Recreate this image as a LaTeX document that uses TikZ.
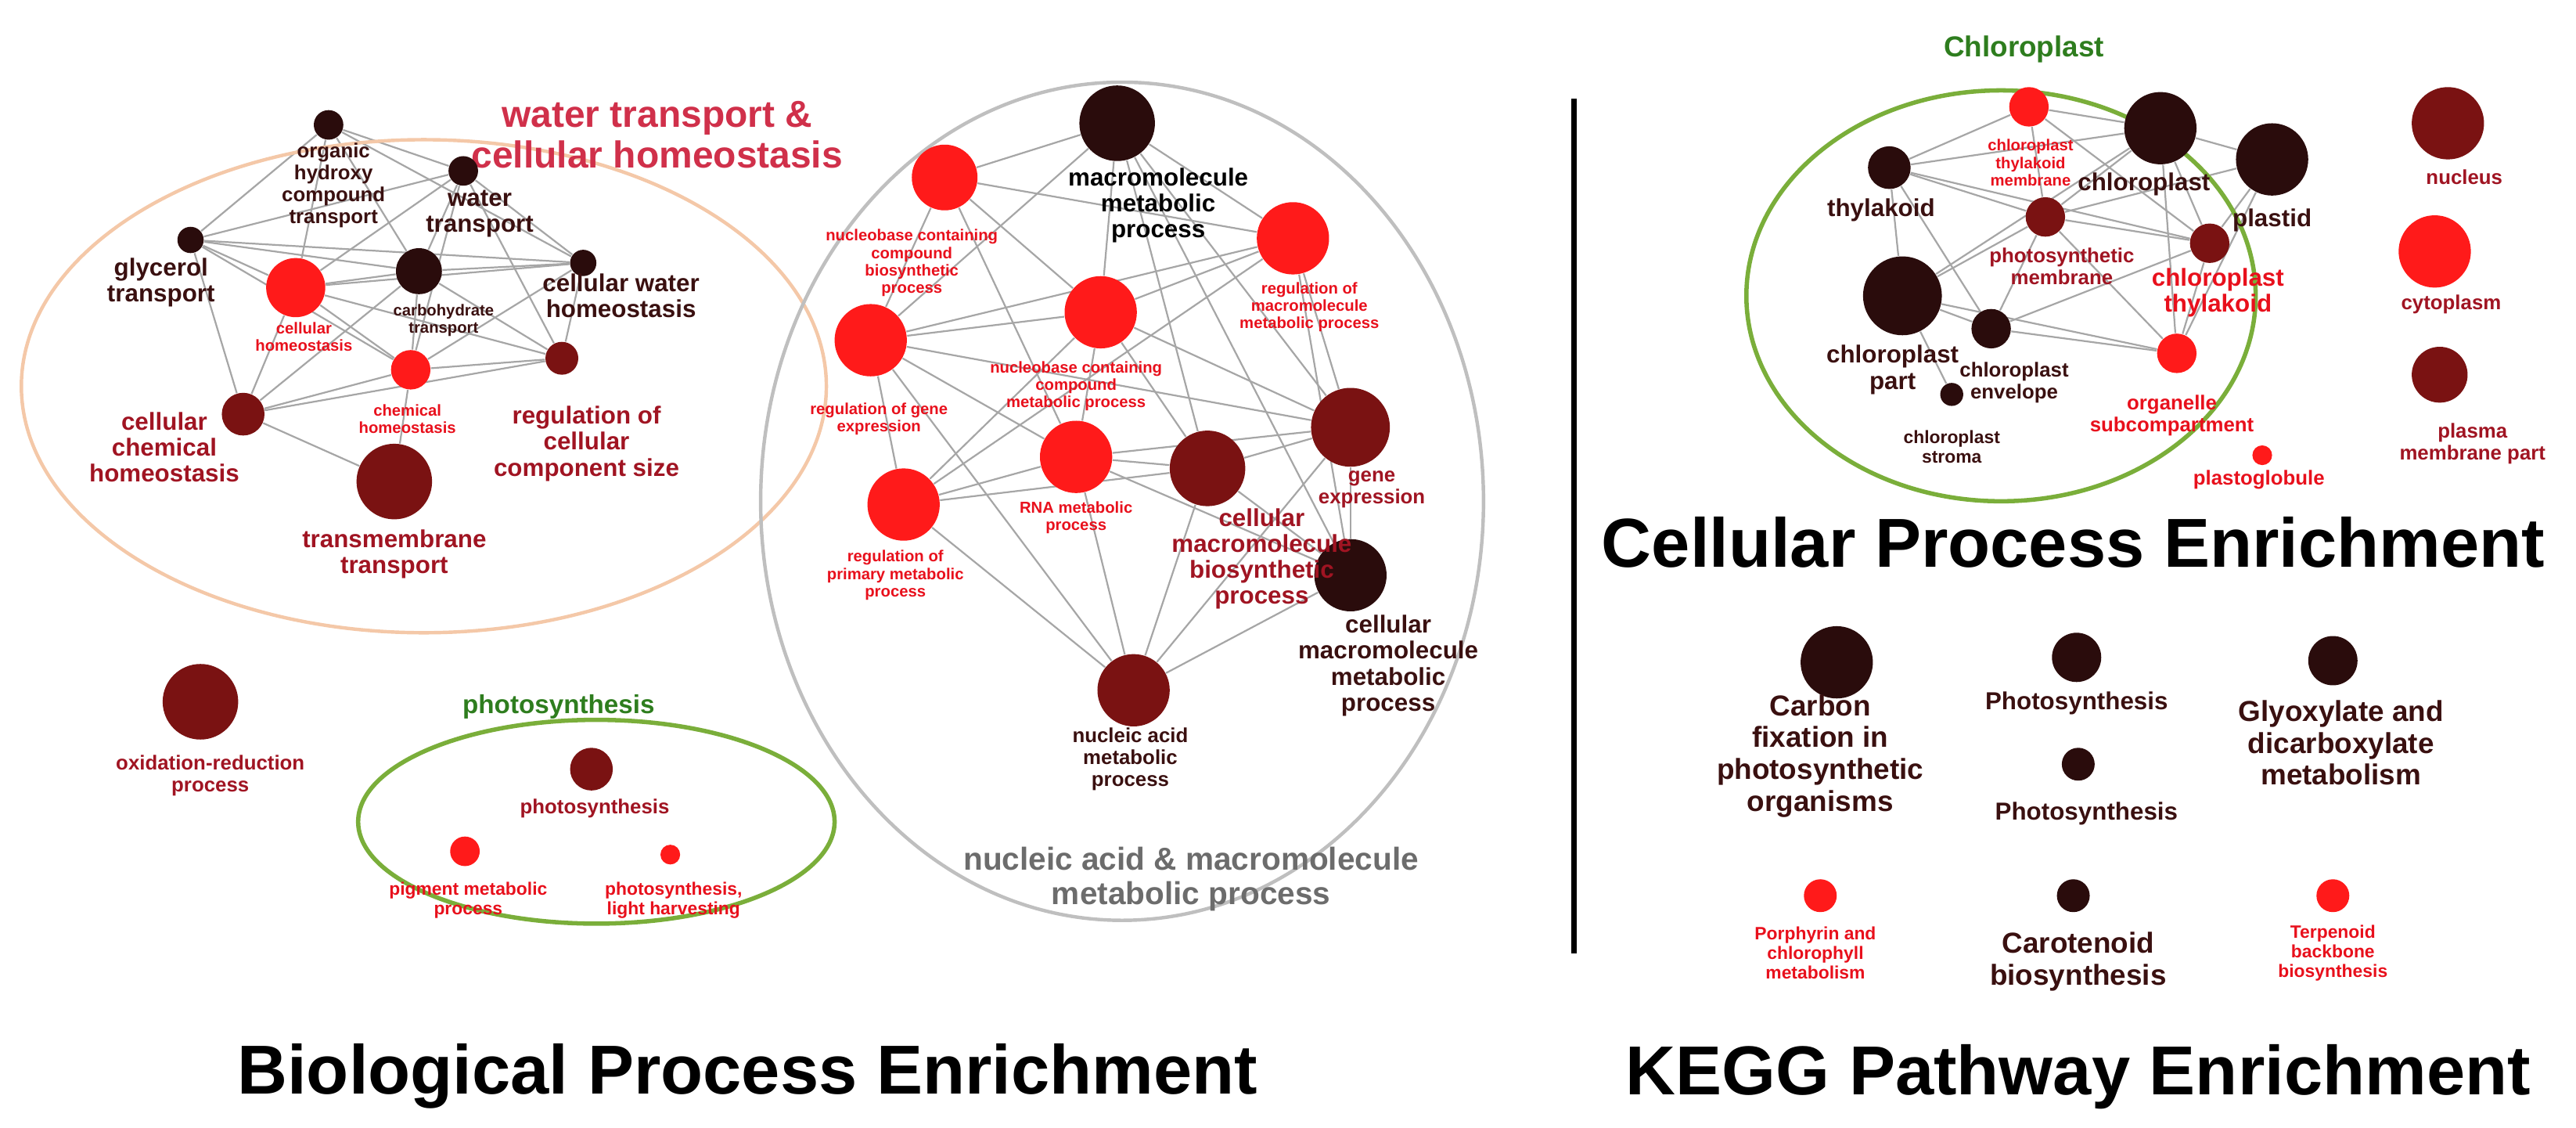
\documentclass[tikz,border=0pt]{standalone}
\usepackage{fontspec}
\setmainfont{Liberation Sans}
\usetikzlibrary{backgrounds}
\definecolor{dk}{HTML}{2A0C0C}
\definecolor{dr}{HTML}{7A1212}
\definecolor{rd}{HTML}{FF1A1A}
\definecolor{ldk}{HTML}{3A1010}
\definecolor{ldr}{HTML}{A01422}
\definecolor{lrd}{HTML}{E8101C}
\definecolor{crim}{HTML}{D0304A}
\definecolor{grn}{HTML}{2E7D1E}
\definecolor{egrn}{HTML}{7AAE3A}
\definecolor{peach}{HTML}{F4C8A8}
\newcommand\dt[4]{\node[circle,inner sep=0pt,draw=none,fill=#4,minimum size=#3*0.04cm] (#1) at (#2) {};}
\tikzset{
 sm/.style={align=center,font=\bfseries\fontsize{5.5}{6}\selectfont,inner sep=0pt},
 md/.style={align=center,font=\bfseries\fontsize{8.5}{9}\selectfont,inner sep=0pt},
 mm/.style={align=center,font=\bfseries\fontsize{7}{7.6}\selectfont,inner sep=0pt},
 ed/.style={draw=gray!70,line width=0.6pt},
 big/.style={font=\bfseries\fontsize{24}{26}\selectfont,inner sep=0pt}
}
\begin{document}
\begin{tikzpicture}[x={(0.02cm,0)},y={(0,-0.02cm)}]
\useasboundingbox (0,0) rectangle (1568,686);
% ellipses
\draw[peach,line width=1.2pt] (258,235) ellipse [x radius=245,y radius=150];
\draw[egrn,line width=1.5pt] (363,500) ellipse [x radius=145,y radius=62];
\draw[gray!50,line width=1.2pt] (683,305) ellipse [x radius=220,y radius=255];
\draw[egrn,line width=1.5pt] (1218,180) ellipse [x radius=155,y radius=125];
\draw[line width=2pt] (958,60) -- (958,580);
% titles
\node[align=center,text=crim,font=\bfseries\fontsize{13}{14}\selectfont] (t1) at (400,82) {water transport \&\\cellular homeostasis};
\node[text=grn,font=\bfseries\fontsize{9}{10}\selectfont] (t2) at (340,430) {photosynthesis};
\node[align=center,text=gray!85!black,font=\bfseries\fontsize{11}{12}\selectfont] (t3) at (725,535) {nucleic acid \& macromolecule\\metabolic process};
\node[text=grn,font=\bfseries\fontsize{10}{11}\selectfont] (t4) at (1232,30) {Chloroplast};
\node[big] (b1) at (1262,330) {Cellular Process Enrichment};
\node[big] (b2) at (455,655) {Biological Process Enrichment};
\node[big] (b3) at (1265,655) {KEGG Pathway Enrichment};
% left cluster
\dt{oh}{200,76}{9}{dk}\dt{wt}{282,104}{9}{dk}\dt{gt}{116,146}{8}{dk}\dt{cw}{355,160}{8}{dk}
\dt{ch}{180,175}{18}{rd}\dt{ct}{255,165}{14}{dk}\dt{chem}{250,225}{12}{rd}\dt{rc}{342,218}{10}{dr}
\dt{cc}{148,252}{13}{dr}\dt{tt}{240,293}{23}{dr}
\node[mm,text=ldk] (loh) at (203,113) {organic\\hydroxy\\compound\\transport};
\node[md,text=ldk] (lwt) at (292,130) {water\\transport};
\node[md,text=ldk] (lgt) at (98,172) {glycerol\\transport};
\node[md,text=ldk] (lcw) at (378,180) {cellular water\\homeostasis};
\node[sm,text=lrd] (lch) at (185,205) {cellular\\homeostasis};
\node[sm,text=ldk] (lct) at (270,195) {carbohydrate\\transport};
\node[sm,text=lrd] (lchem) at (248,255) {chemical\\homeostasis};
\node[md,text=ldr] (lrc) at (357,270) {regulation of\\cellular\\component size};
\node[md,text=ldr] (lcc) at (100,272) {cellular\\chemical\\homeostasis};
\node[md,text=ldr] (ltt) at (240,337) {transmembrane\\transport};
\dt{ox}{122,427}{23}{dr}
\node[mm,text=ldr] (lox) at (128,472) {oxidation-reduction\\process};
\dt{ps}{360,468}{13}{dr}\dt{pm}{283,518}{9}{rd}\dt{pl}{408,520}{6}{rd}
\node[mm,text=ldr] (lps) at (362,492) {photosynthesis};
\node[sm,text=lrd,font=\bfseries\fontsize{6.2}{6.8}\selectfont] (lpm) at (285,548) {pigment metabolic\\process};
\node[sm,text=lrd,font=\bfseries\fontsize{6.2}{6.8}\selectfont] (lpl) at (410,548) {photosynthesis,\\light harvesting};
% middle cluster
\dt{mm}{680,75}{23}{dk}\dt{nb}{575,108}{20}{rd}\dt{rm}{787,145}{22}{rd}\dt{nm}{670,190}{22}{rd}
\dt{rg}{530,207}{22}{rd}\dt{ge}{822,260}{24}{dr}\dt{rna}{655,278}{22}{rd}\dt{cb}{735,285}{23}{dr}
\dt{rp}{550,307}{22}{rd}\dt{cm}{822,350}{22}{dk}\dt{na}{690,420}{22}{dr}
\node[md,text=black] (lmm) at (705,125) {macromolecule\\metabolic\\process};
\node[sm,text=lrd] (lnb) at (555,160) {nucleobase containing\\compound\\biosynthetic\\process};
\node[sm,text=lrd] (lrm) at (797,187) {regulation of\\macromolecule\\metabolic process};
\node[sm,text=lrd] (lnm) at (655,235) {nucleobase containing\\compound\\metabolic process};
\node[sm,text=lrd] (lrg) at (535,255) {regulation of gene\\expression};
\node[mm,text=ldr] (lge) at (835,298) {gene\\expression};
\node[sm,text=lrd] (lrna) at (655,315) {RNA metabolic\\process};
\node[md,text=ldr] (lcb) at (768,340) {cellular\\macromolecule\\biosynthetic\\process};
\node[sm,text=lrd] (lrp) at (545,350) {regulation of\\primary metabolic\\process};
\node[md,text=ldk] (lcm) at (845,405) {cellular\\macromolecule\\metabolic\\process};
\node[mm,text=ldk] (lna) at (688,462) {nucleic acid\\metabolic\\process};
% chloroplast
\dt{ctm}{1235,65}{12}{rd}\dt{cp}{1315,78}{22}{dk}\dt{pd}{1383,97}{22}{dk}\dt{th}{1150,102}{13}{dk}
\dt{pmb}{1245,132}{12}{dr}\dt{cth}{1345,148}{12}{dr}\dt{cpp}{1158,180}{24}{dk}\dt{ce}{1212,200}{12}{dk}
\dt{os}{1325,215}{12}{rd}\dt{cs}{1188,240}{7}{dk}
\node[sm,text=lrd] (lctm) at (1236,99) {chloroplast\\thylakoid\\membrane};
\node[md,text=ldk] (lcp) at (1305,112) {chloroplast};
\node[md,text=ldk] (lpd) at (1383,134) {plastid};
\node[md,text=ldk] (lth) at (1145,128) {thylakoid};
\node[mm,text=ldr] (lpmb) at (1255,162) {photosynthetic\\membrane};
\node[md,text=lrd] (lcth) at (1350,178) {chloroplast\\thylakoid};
\node[md,text=ldk] (lcpp) at (1152,225) {chloroplast\\part};
\node[mm,text=ldk] (lce) at (1226,233) {chloroplast\\envelope};
\node[mm,text=lrd] (los) at (1322,253) {organelle\\subcompartment};
\node[sm,text=ldk,font=\bfseries\fontsize{6.2}{6.8}\selectfont] (lcs) at (1188,272) {chloroplast\\stroma};
\dt{nu}{1490,75}{22}{dr}\dt{cy}{1482,153}{22}{rd}\dt{pmp}{1485,228}{17}{dr}\dt{pg}{1377,277}{6}{rd}
\node[mm,text=ldr] (lnu) at (1500,108) {nucleus};
\node[mm,text=ldr] (lcy) at (1492,185) {cytoplasm};
\node[mm,text=ldr] (lpmp) at (1505,270) {plasma\\membrane part};
\node[mm,text=lrd] (lpg) at (1375,292) {plastoglobule};
% KEGG
\dt{k1}{1118,403}{22}{dk}\dt{k2}{1264,400}{15}{dk}\dt{k3}{1265,465}{10}{dk}\dt{k4}{1420,402}{15}{dk}
\dt{k5}{1108,545}{10}{rd}\dt{k6}{1262,545}{10}{dk}\dt{k7}{1420,545}{10}{rd}
\node[md,text=ldk,font=\bfseries\fontsize{10}{11}\selectfont] (lk1) at (1108,460) {Carbon\\fixation in\\photosynthetic\\organisms};
\node[md,text=ldk] (lk2) at (1264,428) {Photosynthesis};
\node[md,text=ldk] (lk3) at (1270,495) {Photosynthesis};
\node[md,text=ldk,font=\bfseries\fontsize{10}{11}\selectfont] (lk4) at (1425,452) {Glyoxylate and\\dicarboxylate\\metabolism};
\node[sm,text=lrd,font=\bfseries\fontsize{6.2}{6.8}\selectfont] (lk5) at (1105,580) {Porphyrin and\\chlorophyll\\metabolism};
\node[md,text=ldk,font=\bfseries\fontsize{10}{11}\selectfont] (lk6) at (1265,585) {Carotenoid\\biosynthesis};
\node[sm,text=lrd,font=\bfseries\fontsize{6.2}{6.8}\selectfont] (lk7) at (1420,580) {Terpenoid\\backbone\\biosynthesis};
% edges
\begin{scope}[on background layer]
\foreach \a/\b in {oh/wt,oh/gt,oh/cw,oh/ch,oh/ct,wt/gt,wt/cw,wt/ch,wt/ct,wt/chem,wt/rc,gt/ch,gt/ct,gt/cc,gt/chem,gt/cw,cw/ct,cw/rc,cw/chem,cw/ch,ch/ct,ch/chem,ch/cc,ch/rc,ct/chem,ct/rc,ct/cc,chem/cc,chem/rc,cc/tt,chem/tt,cc/rc,
 mm/nb,mm/rm,mm/nm,mm/rg,mm/ge,mm/cb,mm/cm,nb/nm,nb/rg,nb/rna,nb/rm,rm/nm,rm/rg,rm/ge,rm/rp,rm/cm,nm/rg,nm/rna,nm/ge,nm/rp,nm/cb,rg/rna,rg/rp,rg/ge,rg/na,ge/rna,ge/cb,ge/cm,ge/na,rna/cb,rna/rp,rna/na,cb/cm,cb/na,rp/na,rp/cb,cm/na,cm/rna,
 th/ctm,th/pmb,th/cpp,th/ce,th/cp,th/cth,ctm/cp,ctm/pmb,ctm/cth,cp/pd,cp/pmb,cp/cth,cp/cpp,cp/os,pd/cth,pd/pmb,pd/os,pmb/cth,pmb/cpp,pmb/ce,pmb/os,cth/os,cpp/ce,cpp/os,cpp/cs,ce/os,ce/cth}
  \draw[ed] (\a) -- (\b);
\end{scope}
\end{tikzpicture}
\end{document}
